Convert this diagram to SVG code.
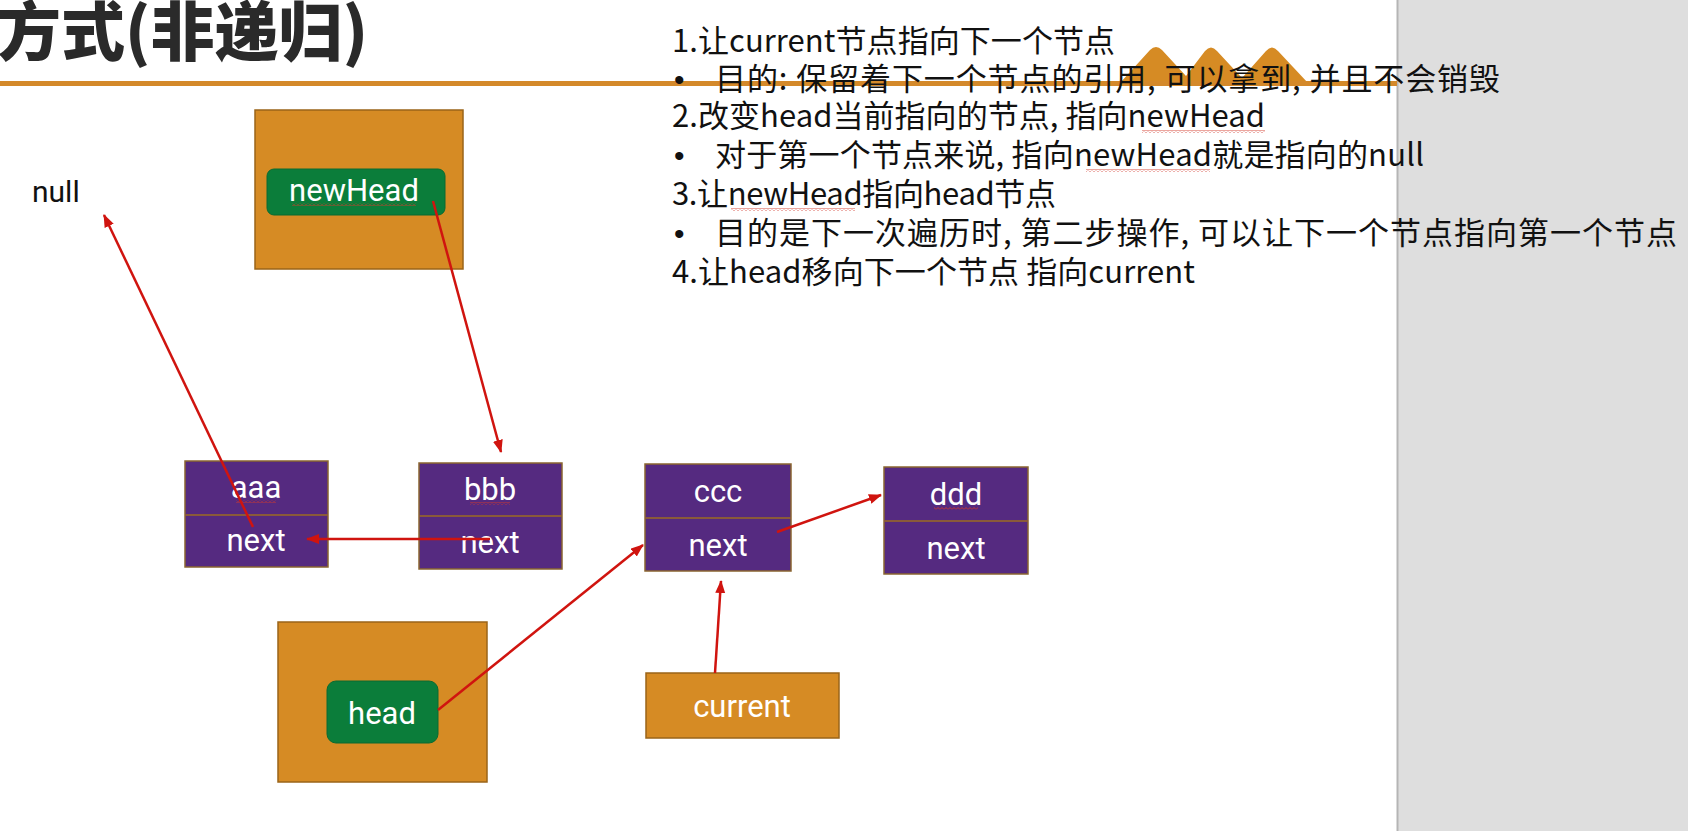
<svg xmlns="http://www.w3.org/2000/svg" width="1688" height="831" viewBox="0 0 1688 831">
<defs>
<style>
.title{font-family:"Noto Sans CJK SC","Noto Sans",sans-serif;font-weight:900;font-size:64px;fill:#2a2a2a}
.note{font-family:"Noto Sans CJK SC","Noto Sans",sans-serif;font-size:31px;fill:#111}
.bul{font-family:"Liberation Sans",sans-serif;font-size:30px;fill:#111}
.lbl{font-family:Roboto,"Liberation Sans",sans-serif;font-size:31px;fill:#fff;text-anchor:middle}
.null{font-family:Roboto,"Liberation Sans",sans-serif;font-size:30px;fill:#111}
.obox{fill:#d68b24;stroke:#9a6418;stroke-width:1.5}
.gbox{fill:#0b7d3a;stroke:#0a6a31;stroke-width:1}
.cell{fill:#552a80;stroke:#8a6530;stroke-width:1.5}
.div{stroke:#8a5a3a;stroke-width:2}
.conn{stroke:#d0140f;stroke-width:2.5;fill:none}
.wavy{fill:url(#wave)}
</style>
<marker id="ah" markerUnits="userSpaceOnUse" markerWidth="14" markerHeight="12" refX="12" refY="5" orient="auto">
<path d="M0,0 L13,5 L0,10 z" fill="#d0140f"/>
</marker>
<pattern id="wave" patternUnits="userSpaceOnUse" width="4" height="3">
<path d="M0,2.5 L2,0.5 L4,2.5" stroke="#d23a2a" stroke-width="0.9" fill="none"/>
</pattern>
</defs>
<rect x="0" y="0" width="1688" height="831" fill="#ffffff"/>
<rect x="1397" y="0" width="291" height="831" fill="#dedede"/>
<line x1="1397.5" y1="0" x2="1397.5" y2="831" stroke="#b5b5b5" stroke-width="2"/>

<g id="decor">
<path d="M1120,83 L1150,50 Q1156,44 1162,50 L1186,76 L1205,51 Q1211,44 1217,51 L1242,78 L1266,51 Q1272,44 1278,51 L1308,83 Z" fill="#d68b24"/>
<rect x="0" y="81" width="1397" height="5" fill="#d4892a"/>
</g>

<g id="title"><text class="title" x="-3" y="55">方式(非递归)</text></g>

<g id="notes">
<text class="note" x="672" y="52" textLength="443" lengthAdjust="spacing">1.让current节点指向下一个节点</text>
<text class="bul" x="674" y="90">•</text>
<text class="note" x="715" y="90" textLength="785" lengthAdjust="spacing">目的: 保留着下一个节点的引用, 可以拿到, 并且不会销毁</text>
<text class="note" x="672" y="127" textLength="593" lengthAdjust="spacing">2.改变head当前指向的节点, 指向newHead</text>
<text class="bul" x="674" y="166">•</text>
<text class="note" x="715" y="166" textLength="709" lengthAdjust="spacing">对于第一个节点来说, 指向newHead就是指向的null</text>
<text class="note" x="672" y="205" textLength="384" lengthAdjust="spacing">3.让newHead指向head节点</text>
<text class="bul" x="674" y="244">•</text>
<text class="note" x="715" y="244" textLength="962" lengthAdjust="spacing">目的是下一次遍历时, 第二步操作, 可以让下一个节点指向第一个节点</text>
<text class="note" x="672" y="283" textLength="523" lengthAdjust="spacing">4.让head移向下一个节点 指向current</text>
<rect class="wavy" x="1142" y="130" width="123" height="3"/>
<rect class="wavy" x="1086" y="169" width="124" height="3"/>
<rect class="wavy" x="731" y="208" width="124" height="3"/>
</g>

<g id="null"><text class="null" x="32" y="202">null</text></g>

<g id="newHead">
<rect class="obox" x="255" y="110" width="208" height="159"/>
<rect class="gbox" x="267" y="169" width="178" height="46" rx="7"/>
<text class="lbl" x="354" y="201">newHead</text>
<rect class="wavy" x="292" y="203" width="124" height="3"/>
</g>

<g id="node-aaa">
<rect class="cell" x="185" y="461" width="143" height="106"/>
<line class="div" x1="185" y1="515" x2="328" y2="515"/>
<text class="lbl" x="256" y="498">aaa</text>
<rect class="wavy" x="236" y="500" width="40" height="3"/>
<text class="lbl" x="256" y="551">next</text>
</g>

<g id="node-bbb">
<rect class="cell" x="419" y="463" width="143" height="106"/>
<line class="div" x1="419" y1="516" x2="562" y2="516"/>
<text class="lbl" x="490" y="500">bbb</text>
<rect class="wavy" x="470" y="502" width="40" height="3"/>
<text class="lbl" x="490" y="553">next</text>
</g>

<g id="node-ccc">
<rect class="cell" x="645" y="464" width="146" height="107"/>
<line class="div" x1="645" y1="518" x2="791" y2="518"/>
<text class="lbl" x="718" y="502">ccc</text>
<text class="lbl" x="718" y="556">next</text>
</g>

<g id="node-ddd">
<rect class="cell" x="884" y="467" width="144" height="107"/>
<line class="div" x1="884" y1="521" x2="1028" y2="521"/>
<text class="lbl" x="956" y="505">ddd</text>
<rect class="wavy" x="934" y="507" width="44" height="3"/>
<text class="lbl" x="956" y="559">next</text>
</g>

<g id="head">
<rect class="obox" x="278" y="622" width="209" height="160"/>
<rect class="gbox" x="327" y="681" width="111" height="62" rx="9"/>
<text class="lbl" x="382" y="724">head</text>
</g>

<g id="current">
<rect class="obox" x="646" y="673" width="193" height="65"/>
<text class="lbl" x="742" y="717">current</text>
</g>

<g id="connectors">
<line class="conn" x1="253" y1="527" x2="104" y2="215" marker-end="url(#ah)"/>
<line class="conn" x1="433" y1="201" x2="501" y2="452" marker-end="url(#ah)"/>
<line class="conn" x1="490" y1="539" x2="307" y2="539" stroke-width="4" marker-end="url(#ah)"/>
<line class="conn" x1="438" y1="710" x2="643" y2="545" marker-end="url(#ah)"/>
<line class="conn" x1="777" y1="532" x2="881" y2="495" marker-end="url(#ah)"/>
<line class="conn" x1="715" y1="673" x2="721" y2="581" marker-end="url(#ah)"/>
</g>
</svg>
